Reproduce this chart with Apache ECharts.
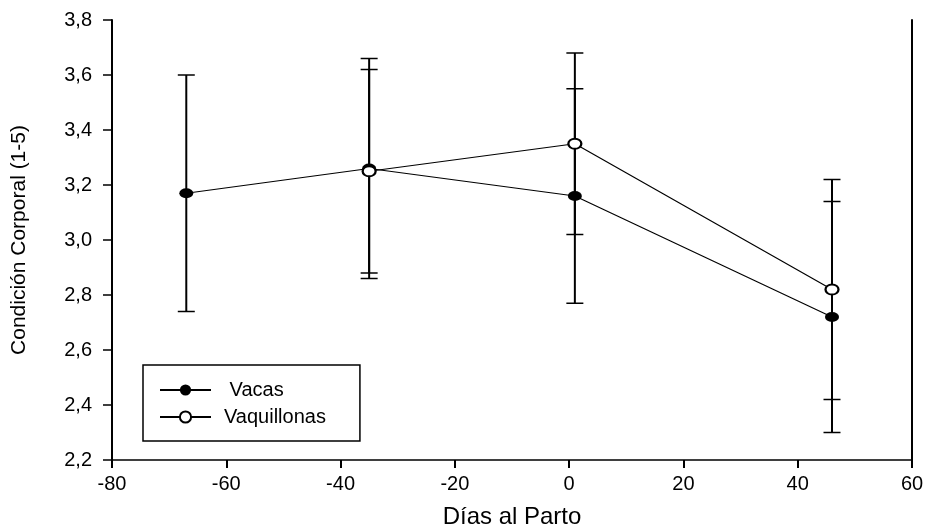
<!DOCTYPE html>
<html>
<head>
<meta charset="utf-8">
<title>Condición Corporal</title>
<script src="https://cdn.jsdelivr.net/npm/echarts@6/dist/echarts.min.js"></script>
<style>
    html, body { margin: 0; padding: 0; background: #fff; }
    #chart { width: 926px; height: 526px; }
</style>
</head>
<body>
<div id="chart"></div>
<script>
// datos
var diasVacas = [-67, -35, 1, 46];
var vacas = [3.17, 3.26, 3.16, 2.72];
var vacasMin = [2.74, 2.86, 2.77, 2.30];
var vacasMax = [3.60, 3.66, 3.55, 3.14];

var diasVaquillonas = [-35, 1, 46];
var vaquillonas = [3.25, 3.35, 2.82];
var vaquillonasMin = [2.88, 3.02, 2.42];
var vaquillonasMax = [3.62, 3.68, 3.22];

var fuente = 'Liberation Sans, Arial, sans-serif';

function getID(ID) {
    return document.getElementById(ID);
}

function pares(xs, ys) {
    var out = [];
    for (var i = 0; i < xs.length; i++) {
        out.push([xs[i], ys[i]]);
    }
    return out;
}

function barras(xs, lo, hi) {
    var out = [];
    for (var i = 0; i < xs.length; i++) {
        out.push([xs[i], lo[i], hi[i]]);
    }
    return out;
}

// barra de error: linea vertical + dos topes
function dibujarError(params, api) {
    var x = api.value(0);
    var pLo = api.coord([x, api.value(1)]);
    var pHi = api.coord([x, api.value(2)]);
    var w = 8.5;
    var trazo = { stroke: '#000', lineWidth: 2 };
    var tope = { stroke: '#000', lineWidth: 1.5 };
    return {
        type: 'group',
        children: [
            { type: 'line', shape: { x1: pLo[0], y1: pLo[1], x2: pHi[0], y2: pHi[1] }, style: trazo },
            { type: 'line', shape: { x1: pLo[0] - w, y1: pLo[1], x2: pLo[0] + w, y2: pLo[1] }, style: tope },
            { type: 'line', shape: { x1: pHi[0] - w, y1: pHi[1], x2: pHi[0] + w, y2: pHi[1] }, style: tope }
        ]
    };
}

var myChart = echarts.init(getID('chart'));

var option = {
    backgroundColor: '#fff',
    animation: false,
    grid: { left: 112, right: 14, top: 20, bottom: 66, outerBoundsMode: 'none', containLabel: false },
    legend: {
        data: ['Vacas', 'Vaquillonas'],
        orient: 'vertical',
        left: 143,
        top: 365,
        padding: [15, 34, 14, 16],
        itemWidth: 51,
        itemHeight: 14,
        itemGap: 7,
        borderColor: '#000',
        borderWidth: 1.5,
        borderRadius: 0,
        selectedMode: false,
        formatter: function (n) {
            return n == 'Vacas' ? ' ' + n : n;
        },
        textStyle: { fontFamily: fuente, fontSize: 20, lineHeight: 13, color: '#000', padding: [0, 0, 0, 8] }
    },
    xAxis: {
        type: 'value',
        min: -80,
        max: 60,
        interval: 20,
        name: 'Días al Parto',
        nameLocation: 'middle',
        nameGap: 45,
        nameTextStyle: { fontFamily: fuente, fontSize: 24, color: '#000' },
        axisLine: { onZero: false, lineStyle: { color: '#000', width: 1.5 } },
        axisTick: { length: 8, lineStyle: { color: '#000', width: 2 } },
        axisLabel: { margin: 14, fontFamily: fuente, fontSize: 20, color: '#000' },
        splitLine: { show: false }
    },
    yAxis: [{
        type: 'value',
        min: 2.2,
        max: 3.8,
        interval: 0.2,
        name: 'Condición Corporal (1-5)',
        nameLocation: 'middle',
        nameGap: 82,
        nameTextStyle: { fontFamily: fuente, fontSize: 21, color: '#000' },
        axisLine: { show: true, onZero: false, lineStyle: { color: '#000', width: 2 } },
        axisTick: { show: true, length: 9, lineStyle: { color: '#000', width: 1.5 } },
        axisLabel: {
            margin: 20,
            fontFamily: fuente,
            fontSize: 20,
            color: '#000',
            formatter: function (v) {
                return v.toFixed(1).replace('.', ',');
            }
        },
        splitLine: { show: false }
    }, {
        // eje derecho, solo la linea
        type: 'value',
        position: 'right',
        min: 2.2,
        max: 3.8,
        axisLine: { show: true, onZero: false, lineStyle: { color: '#000', width: 2 } },
        axisTick: { show: false },
        axisLabel: { show: false },
        splitLine: { show: false }
    }],
    series: [{
        name: 'errVacas',
        type: 'custom',
        renderItem: dibujarError,
        data: barras(diasVacas, vacasMin, vacasMax),
        z: 1
    }, {
        name: 'errVaquillonas',
        type: 'custom',
        renderItem: dibujarError,
        data: barras(diasVaquillonas, vaquillonasMin, vaquillonasMax),
        z: 1
    }, {
        name: 'Vacas',
        type: 'line',
        data: pares(diasVacas, vacas),
        symbol: 'circle',
        symbolSize: [14, 10],
        itemStyle: { color: '#000' },
        lineStyle: { color: '#000', width: 1.2 },
        z: 3
    }, {
        name: 'Vaquillonas',
        type: 'line',
        data: pares(diasVaquillonas, vaquillonas),
        symbol: 'emptyCircle',
        symbolSize: [13, 10],
        itemStyle: { color: '#000', borderWidth: 1.3 },
        lineStyle: { color: '#000', width: 1.2 },
        z: 4
    }]
};
myChart.setOption(option);
</script>
</body>
</html>
